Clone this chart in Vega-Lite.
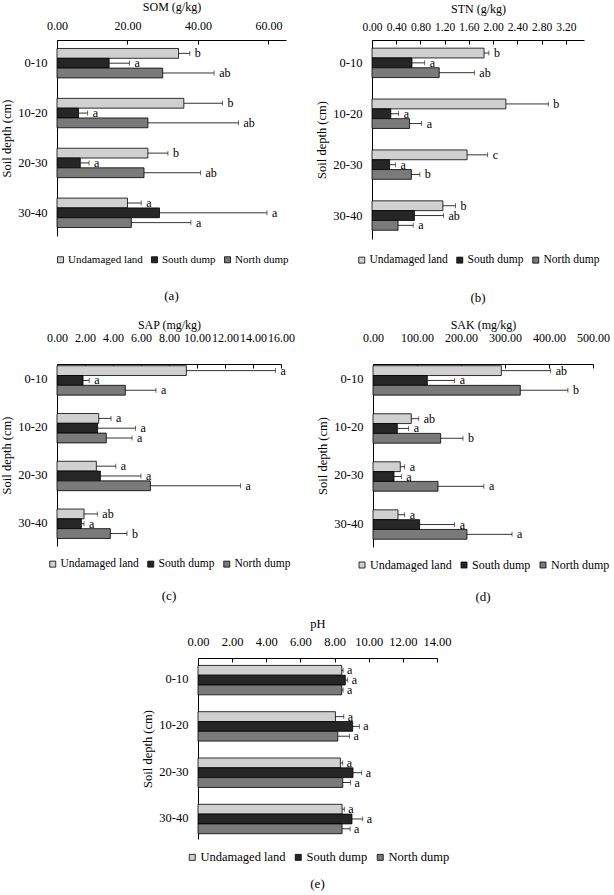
{
  "$schema": "https://vega.github.io/schema/vega-lite/v6.json",
  "padding": {"left": 0, "top": 0, "right": 0, "bottom": 0},
  "spacing": 13,
  "datasets": {
    "som": [
      {"depth": "0-10", "site": "Undamaged land", "mean": 34.5, "upper": 37.7, "letter": "b"},
      {"depth": "0-10", "site": "South dump", "mean": 14.8, "upper": 20.6, "letter": "a"},
      {"depth": "0-10", "site": "North dump", "mean": 30.0, "upper": 44.6, "letter": "ab"},
      {"depth": "10-20", "site": "Undamaged land", "mean": 36.0, "upper": 47.0, "letter": "b"},
      {"depth": "10-20", "site": "South dump", "mean": 6.1, "upper": 8.7, "letter": "a"},
      {"depth": "10-20", "site": "North dump", "mean": 25.8, "upper": 51.5, "letter": "ab"},
      {"depth": "20-30", "site": "Undamaged land", "mean": 25.8, "upper": 31.5, "letter": "b"},
      {"depth": "20-30", "site": "South dump", "mean": 6.6, "upper": 9.1, "letter": "a"},
      {"depth": "20-30", "site": "North dump", "mean": 24.7, "upper": 40.7, "letter": "ab"},
      {"depth": "30-40", "site": "Undamaged land", "mean": 20.0, "upper": 23.9, "letter": "a"},
      {"depth": "30-40", "site": "South dump", "mean": 29.1, "upper": 59.6, "letter": "a"},
      {"depth": "30-40", "site": "North dump", "mean": 21.1, "upper": 38.0, "letter": "a"}
    ],
    "stn": [
      {"depth": "0-10", "site": "Undamaged land", "mean": 1.85, "upper": 1.93, "letter": "b"},
      {"depth": "0-10", "site": "South dump", "mean": 0.66, "upper": 0.87, "letter": "a"},
      {"depth": "0-10", "site": "North dump", "mean": 1.11, "upper": 1.69, "letter": "ab"},
      {"depth": "10-20", "site": "Undamaged land", "mean": 2.21, "upper": 2.91, "letter": "b"},
      {"depth": "10-20", "site": "South dump", "mean": 0.31, "upper": 0.44, "letter": "a"},
      {"depth": "10-20", "site": "North dump", "mean": 0.62, "upper": 0.82, "letter": "a"},
      {"depth": "20-30", "site": "Undamaged land", "mean": 1.57, "upper": 1.91, "letter": "c"},
      {"depth": "20-30", "site": "South dump", "mean": 0.29, "upper": 0.39, "letter": "a"},
      {"depth": "20-30", "site": "North dump", "mean": 0.65, "upper": 0.79, "letter": "b"},
      {"depth": "30-40", "site": "Undamaged land", "mean": 1.17, "upper": 1.38, "letter": "b"},
      {"depth": "30-40", "site": "South dump", "mean": 0.70, "upper": 1.18, "letter": "ab"},
      {"depth": "30-40", "site": "North dump", "mean": 0.43, "upper": 0.68, "letter": "a"}
    ],
    "sap": [
      {"depth": "0-10", "site": "Undamaged land", "mean": 9.24, "upper": 15.6, "letter": "a"},
      {"depth": "0-10", "site": "South dump", "mean": 1.86, "upper": 2.3, "letter": "a"},
      {"depth": "0-10", "site": "North dump", "mean": 4.88, "upper": 7.07, "letter": "a"},
      {"depth": "10-20", "site": "Undamaged land", "mean": 2.98, "upper": 3.86, "letter": "a"},
      {"depth": "10-20", "site": "South dump", "mean": 2.9, "upper": 5.6, "letter": "a"},
      {"depth": "10-20", "site": "North dump", "mean": 3.52, "upper": 5.36, "letter": "a"},
      {"depth": "20-30", "site": "Undamaged land", "mean": 2.81, "upper": 4.2, "letter": "a"},
      {"depth": "20-30", "site": "South dump", "mean": 3.1, "upper": 6.0, "letter": "a"},
      {"depth": "20-30", "site": "North dump", "mean": 6.67, "upper": 13.1, "letter": "a"},
      {"depth": "30-40", "site": "Undamaged land", "mean": 1.93, "upper": 2.88, "letter": "ab"},
      {"depth": "30-40", "site": "South dump", "mean": 1.74, "upper": 1.93, "letter": "a"},
      {"depth": "30-40", "site": "North dump", "mean": 3.81, "upper": 5.0, "letter": "b"}
    ],
    "sak": [
      {"depth": "0-10", "site": "Undamaged land", "mean": 291.7, "upper": 403.8, "letter": "ab"},
      {"depth": "0-10", "site": "South dump", "mean": 123.5, "upper": 185.6, "letter": "a"},
      {"depth": "0-10", "site": "North dump", "mean": 334.8, "upper": 443, "letter": "b"},
      {"depth": "10-20", "site": "Undamaged land", "mean": 87, "upper": 104, "letter": "ab"},
      {"depth": "10-20", "site": "South dump", "mean": 55.3, "upper": 81, "letter": "a"},
      {"depth": "10-20", "site": "North dump", "mean": 153.8, "upper": 204.5, "letter": "b"},
      {"depth": "20-30", "site": "Undamaged land", "mean": 62, "upper": 72, "letter": "a"},
      {"depth": "20-30", "site": "South dump", "mean": 47.7, "upper": 64.4, "letter": "a"},
      {"depth": "20-30", "site": "North dump", "mean": 147.7, "upper": 252, "letter": "a"},
      {"depth": "30-40", "site": "Undamaged land", "mean": 56.8, "upper": 72, "letter": "a"},
      {"depth": "30-40", "site": "South dump", "mean": 106, "upper": 185.6, "letter": "a"},
      {"depth": "30-40", "site": "North dump", "mean": 213.6, "upper": 316, "letter": "a"}
    ],
    "ph": [
      {"depth": "0-10", "site": "Undamaged land", "mean": 8.42, "upper": 8.5, "letter": "a"},
      {"depth": "0-10", "site": "South dump", "mean": 8.63, "upper": 8.77, "letter": "a"},
      {"depth": "0-10", "site": "North dump", "mean": 8.42, "upper": 8.5, "letter": "a"},
      {"depth": "10-20", "site": "Undamaged land", "mean": 8.05, "upper": 8.54, "letter": "a"},
      {"depth": "10-20", "site": "South dump", "mean": 9.06, "upper": 9.45, "letter": "a"},
      {"depth": "10-20", "site": "North dump", "mean": 8.19, "upper": 8.87, "letter": "a"},
      {"depth": "20-30", "site": "Undamaged land", "mean": 8.34, "upper": 8.48, "letter": "a"},
      {"depth": "20-30", "site": "South dump", "mean": 9.08, "upper": 9.59, "letter": "a"},
      {"depth": "20-30", "site": "North dump", "mean": 8.48, "upper": 8.93, "letter": "a"},
      {"depth": "30-40", "site": "Undamaged land", "mean": 8.44, "upper": 8.57, "letter": "a"},
      {"depth": "30-40", "site": "South dump", "mean": 9.02, "upper": 9.65, "letter": "a"},
      {"depth": "30-40", "site": "North dump", "mean": 8.44, "upper": 8.91, "letter": "a"}
    ]
  },
  "resolve": {"scale": {"fill": "independent"}, "legend": {"fill": "independent"}},
  "vconcat": [
    {
      "hconcat": [
        {
          "width": 229, "height": 196,
          "data": {"name": "som"},
          "title": {"text": "(a)", "offset": 25},
          "encoding": {
            "y": {"field": "depth", "type": "nominal", "sort": ["0-10", "10-20", "20-30", "30-40"], "scale": {"paddingInner": 0.41, "paddingOuter": 0.17}, "axis": {"title": "Soil depth (cm)"}},
            "yOffset": {"field": "site", "type": "nominal", "sort": ["Undamaged land", "South dump", "North dump"], "scale": {"paddingInner": 0, "paddingOuter": 0}}
          },
          "layer": [
            {"mark": {"type": "bar", "stroke": "black", "strokeWidth": 0.8}, "encoding": {
              "x": {"field": "mean", "type": "quantitative", "scale": {"domain": [0, 65]}, "axis": {"title": "SOM (g/kg)", "values": [0, 20, 40, 60], "labelOverlap": false, "labelPadding": 12, "titlePadding": 6, "labelFontSize": 12, "titleFontSize": 12, "titleFontWeight": "normal"}},
              "fill": {"field": "site", "type": "nominal", "scale": {"domain": ["Undamaged land", "South dump", "North dump"], "range": ["#d0d0d0", "#262626", "#7a7a7a"]}, "legend": {"labelFontSize": 11, "offset": 18}}}},
            {"mark": {"type": "rule", "color": "black", "strokeWidth": 0.8}, "encoding": {"x": {"field": "mean", "type": "quantitative", "axis": {"title": "SOM (g/kg)", "values": [0, 20, 40, 60], "labelOverlap": false, "labelPadding": 12, "titlePadding": 6, "labelFontSize": 12, "titleFontSize": 12, "titleFontWeight": "normal"}}, "x2": {"field": "upper"}}},
            {"mark": {"type": "tick", "color": "black", "thickness": 0.8, "size": 5, "orient": "vertical"}, "encoding": {"x": {"field": "upper", "type": "quantitative", "axis": {"title": "SOM (g/kg)", "values": [0, 20, 40, 60], "labelOverlap": false, "labelPadding": 12, "titlePadding": 6, "labelFontSize": 12, "titleFontSize": 12, "titleFontWeight": "normal"}}}},
            {"mark": {"type": "text", "align": "left", "baseline": "middle", "dx": 5, "fontSize": 12}, "encoding": {"x": {"field": "upper", "type": "quantitative", "axis": {"title": "SOM (g/kg)", "values": [0, 20, 40, 60], "labelOverlap": false, "labelPadding": 12, "titlePadding": 6, "labelFontSize": 12, "titleFontSize": 12, "titleFontWeight": "normal"}}, "text": {"field": "letter"}}}
          ]
        },
        {
          "width": 212, "height": 199,
          "data": {"name": "stn"},
          "title": {"text": "(b)", "offset": 26},
          "encoding": {
            "y": {"field": "depth", "type": "nominal", "sort": ["0-10", "10-20", "20-30", "30-40"], "scale": {"paddingInner": 0.41, "paddingOuter": 0.16}, "axis": {"title": "Soil depth (cm)"}},
            "yOffset": {"field": "site", "type": "nominal", "sort": ["Undamaged land", "South dump", "North dump"], "scale": {"paddingInner": 0, "paddingOuter": 0}}
          },
          "layer": [
            {"mark": {"type": "bar", "stroke": "black", "strokeWidth": 0.8}, "encoding": {
              "x": {"field": "mean", "type": "quantitative", "scale": {"domain": [0, 3.2]}, "axis": {"title": "STN (g/kg)", "values": [0, 0.4, 0.8, 1.2, 1.6, 2.0, 2.4, 2.8, 3.2], "labelOverlap": false, "labelPadding": 12, "titlePadding": 6, "labelFontSize": 11.5, "titleFontSize": 12, "titleFontWeight": "normal"}},
              "fill": {"field": "site", "type": "nominal", "scale": {"domain": ["Undamaged land", "South dump", "North dump"], "range": ["#d0d0d0", "#262626", "#7a7a7a"]}, "legend": {"labelFontSize": 11.5, "offset": 15}}}},
            {"mark": {"type": "rule", "color": "black", "strokeWidth": 0.8}, "encoding": {"x": {"field": "mean", "type": "quantitative", "axis": {"title": "STN (g/kg)", "values": [0, 0.4, 0.8, 1.2, 1.6, 2.0, 2.4, 2.8, 3.2], "labelOverlap": false, "labelPadding": 12, "titlePadding": 6, "labelFontSize": 11.5, "titleFontSize": 12, "titleFontWeight": "normal"}}, "x2": {"field": "upper"}}},
            {"mark": {"type": "tick", "color": "black", "thickness": 0.8, "size": 5, "orient": "vertical"}, "encoding": {"x": {"field": "upper", "type": "quantitative", "axis": {"title": "STN (g/kg)", "values": [0, 0.4, 0.8, 1.2, 1.6, 2.0, 2.4, 2.8, 3.2], "labelOverlap": false, "labelPadding": 12, "titlePadding": 6, "labelFontSize": 11.5, "titleFontSize": 12, "titleFontWeight": "normal"}}}},
            {"mark": {"type": "text", "align": "left", "baseline": "middle", "dx": 5, "fontSize": 12}, "encoding": {"x": {"field": "upper", "type": "quantitative", "axis": {"title": "STN (g/kg)", "values": [0, 0.4, 0.8, 1.2, 1.6, 2.0, 2.4, 2.8, 3.2], "labelOverlap": false, "labelPadding": 12, "titlePadding": 6, "labelFontSize": 11.5, "titleFontSize": 12, "titleFontWeight": "normal"}}, "text": {"field": "letter"}}}
          ]
        }
      ],
      "spacing": 86,
      "bounds": "flush",
      "resolve": {"scale": {"fill": "independent"}, "legend": {"fill": "independent"}}
    },
    {
      "hconcat": [
        {
          "width": 224, "height": 182,
          "data": {"name": "sap"},
          "title": {"text": "(c)", "offset": 20},
          "encoding": {
            "y": {"field": "depth", "type": "nominal", "sort": ["0-10", "10-20", "20-30", "30-40"], "scale": {"paddingInner": 0.43, "paddingOuter": 0.12, "align": 0.15}, "axis": {"title": "Soil depth (cm)"}},
            "yOffset": {"field": "site", "type": "nominal", "sort": ["Undamaged land", "South dump", "North dump"], "scale": {"paddingInner": 0, "paddingOuter": 0}}
          },
          "layer": [
            {"mark": {"type": "bar", "stroke": "black", "strokeWidth": 0.8}, "encoding": {
              "x": {"field": "mean", "type": "quantitative", "scale": {"domain": [0, 16]}, "axis": {"title": "SAP (mg/kg)", "values": [0, 2, 4, 6, 8, 10, 12, 14, 16], "labelOverlap": false, "labelPadding": 24, "titlePadding": 0, "labelFontSize": 12, "titleFontSize": 12, "titleFontWeight": "normal"}},
              "fill": {"field": "site", "type": "nominal", "scale": {"domain": ["Undamaged land", "South dump", "North dump"], "range": ["#d0d0d0", "#262626", "#7a7a7a"]}, "legend": {"labelFontSize": 11.5, "offset": 12}}}},
            {"mark": {"type": "rule", "color": "black", "strokeWidth": 0.8}, "encoding": {"x": {"field": "mean", "type": "quantitative", "axis": {"title": "SAP (mg/kg)", "values": [0, 2, 4, 6, 8, 10, 12, 14, 16], "labelOverlap": false, "labelPadding": 24, "titlePadding": 0, "labelFontSize": 12, "titleFontSize": 12, "titleFontWeight": "normal"}}, "x2": {"field": "upper"}}},
            {"mark": {"type": "tick", "color": "black", "thickness": 0.8, "size": 5, "orient": "vertical"}, "encoding": {"x": {"field": "upper", "type": "quantitative", "axis": {"title": "SAP (mg/kg)", "values": [0, 2, 4, 6, 8, 10, 12, 14, 16], "labelOverlap": false, "labelPadding": 24, "titlePadding": 0, "labelFontSize": 12, "titleFontSize": 12, "titleFontWeight": "normal"}}}},
            {"mark": {"type": "text", "align": "left", "baseline": "middle", "dx": 5, "fontSize": 12}, "encoding": {"x": {"field": "upper", "type": "quantitative", "axis": {"title": "SAP (mg/kg)", "values": [0, 2, 4, 6, 8, 10, 12, 14, 16], "labelOverlap": false, "labelPadding": 24, "titlePadding": 0, "labelFontSize": 12, "titleFontSize": 12, "titleFontWeight": "normal"}}, "text": {"field": "letter"}}}
          ]
        },
        {
          "width": 220, "height": 183,
          "data": {"name": "sak"},
          "title": {"text": "(d)", "offset": 20},
          "encoding": {
            "y": {"field": "depth", "type": "nominal", "sort": ["0-10", "10-20", "20-30", "30-40"], "scale": {"paddingInner": 0.43, "paddingOuter": 0.12, "align": 0.15}, "axis": {"title": "Soil depth (cm)"}},
            "yOffset": {"field": "site", "type": "nominal", "sort": ["Undamaged land", "South dump", "North dump"], "scale": {"paddingInner": 0, "paddingOuter": 0}}
          },
          "layer": [
            {"mark": {"type": "bar", "stroke": "black", "strokeWidth": 0.8}, "encoding": {
              "x": {"field": "mean", "type": "quantitative", "scale": {"domain": [0, 500]}, "axis": {"title": "SAK (mg/kg)", "values": [0, 100, 200, 300, 400, 500], "labelOverlap": false, "labelPadding": 24, "titlePadding": 0, "labelFontSize": 12, "titleFontSize": 12, "titleFontWeight": "normal"}},
              "fill": {"field": "site", "type": "nominal", "scale": {"domain": ["Undamaged land", "South dump", "North dump"], "range": ["#d0d0d0", "#262626", "#7a7a7a"]}, "legend": {"labelFontSize": 12, "offset": 12}}}},
            {"mark": {"type": "rule", "color": "black", "strokeWidth": 0.8}, "encoding": {"x": {"field": "mean", "type": "quantitative", "axis": {"title": "SAK (mg/kg)", "values": [0, 100, 200, 300, 400, 500], "labelOverlap": false, "labelPadding": 24, "titlePadding": 0, "labelFontSize": 12, "titleFontSize": 12, "titleFontWeight": "normal"}}, "x2": {"field": "upper"}}},
            {"mark": {"type": "tick", "color": "black", "thickness": 0.8, "size": 5, "orient": "vertical"}, "encoding": {"x": {"field": "upper", "type": "quantitative", "axis": {"title": "SAK (mg/kg)", "values": [0, 100, 200, 300, 400, 500], "labelOverlap": false, "labelPadding": 24, "titlePadding": 0, "labelFontSize": 12, "titleFontSize": 12, "titleFontWeight": "normal"}}}},
            {"mark": {"type": "text", "align": "left", "baseline": "middle", "dx": 5, "fontSize": 12}, "encoding": {"x": {"field": "upper", "type": "quantitative", "axis": {"title": "SAK (mg/kg)", "values": [0, 100, 200, 300, 400, 500], "labelOverlap": false, "labelPadding": 24, "titlePadding": 0, "labelFontSize": 12, "titleFontSize": 12, "titleFontWeight": "normal"}}, "text": {"field": "letter"}}}
          ]
        }
      ],
      "spacing": 92,
      "bounds": "flush",
      "resolve": {"scale": {"fill": "independent"}, "legend": {"fill": "independent"}}
    },
    {
      "hconcat": [
        {"width": 1, "height": 1, "data": {"values": []}, "mark": {"type": "point", "opacity": 0}, "encoding": {}},
        {
          "width": 239, "height": 181,
          "data": {"name": "ph"},
          "title": {"text": "(e)", "offset": 14},
          "encoding": {
            "y": {"field": "depth", "type": "nominal", "sort": ["0-10", "10-20", "20-30", "30-40"], "scale": {"paddingInner": 0.41, "paddingOuter": 0.16}, "axis": {"title": "Soil depth (cm)"}},
            "yOffset": {"field": "site", "type": "nominal", "sort": ["Undamaged land", "South dump", "North dump"], "scale": {"paddingInner": 0, "paddingOuter": 0}}
          },
          "layer": [
            {"mark": {"type": "bar", "stroke": "black", "strokeWidth": 0.8}, "encoding": {
              "x": {"field": "mean", "type": "quantitative", "scale": {"domain": [0, 14]}, "axis": {"title": "pH", "values": [0, 2, 4, 6, 8, 10, 12, 14], "labelOverlap": false, "labelPadding": 14, "titlePadding": 5, "labelFontSize": 12.5, "titleFontSize": 12.5, "titleFontWeight": "normal"}},
              "fill": {"field": "site", "type": "nominal", "scale": {"domain": ["Undamaged land", "South dump", "North dump"], "range": ["#d0d0d0", "#262626", "#7a7a7a"]}, "legend": {"labelFontSize": 12.5, "offset": 12}}}},
            {"mark": {"type": "rule", "color": "black", "strokeWidth": 0.8}, "encoding": {"x": {"field": "mean", "type": "quantitative", "axis": {"title": "pH", "values": [0, 2, 4, 6, 8, 10, 12, 14], "labelOverlap": false, "labelPadding": 14, "titlePadding": 5, "labelFontSize": 12.5, "titleFontSize": 12.5, "titleFontWeight": "normal"}}, "x2": {"field": "upper"}}},
            {"mark": {"type": "tick", "color": "black", "thickness": 0.8, "size": 5, "orient": "vertical"}, "encoding": {"x": {"field": "upper", "type": "quantitative", "axis": {"title": "pH", "values": [0, 2, 4, 6, 8, 10, 12, 14], "labelOverlap": false, "labelPadding": 14, "titlePadding": 5, "labelFontSize": 12.5, "titleFontSize": 12.5, "titleFontWeight": "normal"}}}},
            {"mark": {"type": "text", "align": "left", "baseline": "middle", "dx": 4, "fontSize": 12}, "encoding": {"x": {"field": "upper", "type": "quantitative", "axis": {"title": "pH", "values": [0, 2, 4, 6, 8, 10, 12, 14], "labelOverlap": false, "labelPadding": 14, "titlePadding": 5, "labelFontSize": 12.5, "titleFontSize": 12.5, "titleFontWeight": "normal"}}, "text": {"field": "letter"}}}
          ]
        }
      ],
      "spacing": 140,
      "bounds": "flush",
      "resolve": {"scale": {"fill": "independent"}, "legend": {"fill": "independent"}}
    }
  ],
  "config": {
    "font": "Liberation Serif",
    "view": {"stroke": null},
    "text": {"font": "Liberation Serif", "color": "black"},
    "axis": {
      "domainColor": "black", "domainWidth": 1, "tickColor": "black", "tickWidth": 1,
      "labelColor": "black", "titleColor": "black", "titleFontWeight": "normal",
      "labelFont": "Liberation Serif", "titleFont": "Liberation Serif",
      "labelFontSize": 12, "titleFontSize": 12, "grid": false
    },
    "axisX": {"orient": "top", "format": ".2f", "tickSize": -4, "labelFlush": false, "labelOverlap": false},
    "axisY": {"ticks": false, "labelPadding": 10, "titlePadding": 4, "labelFontSize": 12.5, "titleFontSize": 12.5},
    "legend": {
      "orient": "bottom", "direction": "horizontal", "title": null,
      "symbolType": "square", "symbolSize": 36, "symbolStrokeColor": "black", "symbolStrokeWidth": 0.8,
      "labelFont": "Liberation Serif", "labelColor": "black", "labelOffset": 2, "columnPadding": 6,
      "padding": 0,
      "layout": {"bottom": {"anchor": "middle"}}
    },
    "title": {"orient": "bottom", "anchor": "middle", "fontSize": 13, "fontWeight": "normal", "font": "Liberation Serif", "color": "black"}
  }
}
